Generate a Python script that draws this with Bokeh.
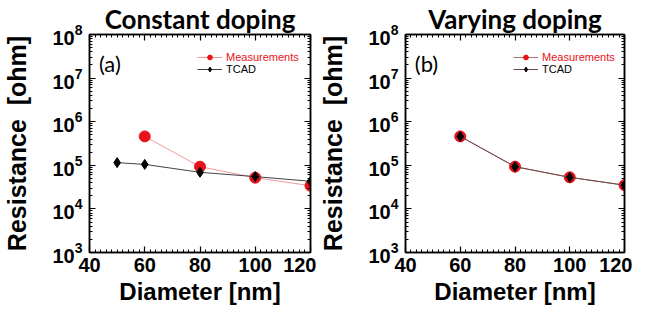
from bokeh.plotting import figure
from bokeh.models import (LinearAxis, LogAxis, Legend, LegendItem, Label,
                          FixedTicker, Range1d, Title)
from bokeh.layouts import row
from bokeh.embed import file_html
from bokeh.resources import INLINE

# ---- data ----
diam_meas_a = [60, 80, 100, 120]
res_meas_a = [4.6e5, 9.3e4, 5.2e4, 3.4e4]
diam_tcad_a = [50, 60, 80, 100, 120]
res_tcad_a = [1.15e5, 1.05e5, 6.9e4, 5.5e4, 4.3e4]

diam_meas_b = [60, 80, 100, 120]
res_meas_b = [4.6e5, 9.3e4, 5.3e4, 3.5e4]
diam_tcad_b = [60, 80, 100, 120]
res_tcad_b = [4.6e5, 9.3e4, 5.3e4, 3.5e4]

x_ticks = [40, 60, 80, 100, 120]
x_minor = list(range(40, 121, 2))
y_ticks = [1e3, 1e4, 1e5, 1e6, 1e7, 1e8]
y_minor = [m * 10 ** e for e in range(3, 8) for m in range(2, 10)]

RED = "#e8121a"
RED_LINE = "#f29a9a"
BLACK = "#000000"
TCAD_LINE = "#444444"
AX_FONT = "Liberation Sans"
TITLE_FONT = "Lato"

BORDER_TOP = 31
FRAME_H = 221
BORDER_BOTTOM = 58


def style_axis(ax, show_labels=True):
    ax.axis_line_color = "black"
    ax.axis_line_width = 1.5
    ax.major_tick_in = 6
    ax.major_tick_out = 0
    ax.minor_tick_in = 3
    ax.minor_tick_out = 0
    ax.major_tick_line_color = "black"
    ax.minor_tick_line_color = "black"
    ax.major_tick_line_width = 1.2
    ax.minor_tick_line_width = 1
    ax.major_label_text_font = AX_FONT
    ax.major_label_text_font_style = "bold"
    ax.major_label_text_color = "black"
    ax.axis_label_text_color = "black"
    if show_labels:
        ax.major_label_text_font_size = "20px"
    else:
        ax.major_label_text_font_size = "1px"
        ax.major_label_text_color = None
        ax.major_label_standoff = 0


def make_panel(title, tag, xm, ym, xt, yt, width, bl, br, meas_line, tcad_line):
    p = figure(width=width, height=BORDER_TOP + FRAME_H + BORDER_BOTTOM,
               x_range=Range1d(40, 120), y_range=Range1d(1e3, 1e8),
               y_axis_type="log", output_backend="svg", toolbar_location=None,
               min_border_left=bl, min_border_right=br,
               min_border_top=BORDER_TOP, min_border_bottom=BORDER_BOTTOM,
               x_axis_label="Diameter [nm]",
               y_axis_label="Resistance\u00a0\u00a0[ohm]")
    p.title = Title(text=title, align="center", text_font=TITLE_FONT,
                    text_font_size="26px", text_font_style="bold",
                    text_color="black", standoff=0)
    p.xgrid.visible = False
    p.ygrid.visible = False
    p.outline_line_color = "black"
    p.outline_line_width = 1.5
    p.background_fill_color = "white"
    p.border_fill_color = "white"

    xax = p.xaxis[0]
    xax.ticker = FixedTicker(ticks=x_ticks, minor_ticks=x_minor)
    style_axis(xax)
    xax.major_label_standoff = 5
    xax.axis_label_standoff = 3
    xax.axis_label_text_font = AX_FONT
    xax.axis_label_text_font_style = "bold"
    xax.axis_label_text_font_size = "24px"

    yax = p.yaxis[0]
    yax.ticker = FixedTicker(ticks=y_ticks, minor_ticks=y_minor)
    style_axis(yax)
    yax.major_label_standoff = 7
    yax.axis_label_standoff = 18
    yax.axis_label_text_font = AX_FONT
    yax.axis_label_text_font_style = "bold"
    yax.axis_label_text_font_size = "25px"

    top = LinearAxis(ticker=FixedTicker(ticks=x_ticks, minor_ticks=x_minor))
    style_axis(top, show_labels=False)
    p.add_layout(top, "above")
    right = LogAxis(ticker=FixedTicker(ticks=y_ticks, minor_ticks=y_minor))
    style_axis(right, show_labels=False)
    p.add_layout(right, "right")

    ml = p.line(xm, ym, line_color=meas_line, line_width=1)
    ms = p.scatter(xm, ym, marker="circle", size=11, fill_color=RED,
                   line_color=RED)
    tl = p.line(xt, yt, line_color=tcad_line, line_width=1)
    ts = p.scatter(xt, yt, marker="diamond", size=10, fill_color=BLACK,
                   line_color=BLACK)

    for items, color, bottom_y in (([LegendItem(label="Measurements", renderers=[ml, ms])], RED, 189),
                                   ([LegendItem(label="TCAD", renderers=[tl, ts])], BLACK, 177)):
        lg = Legend(items=items, location=(108, bottom_y), padding=0, margin=0,
                    spacing=0, glyph_width=25, glyph_height=12, label_height=12,
                    label_standoff=4, label_text_font=AX_FONT,
                    label_text_font_size="11px", label_text_color=color,
                    border_line_alpha=0, background_fill_alpha=0)
        p.add_layout(lg, "center")

    p.add_layout(Label(x=43.4, y=10 ** 7.33, text=tag, text_font=TITLE_FONT,
                       text_font_size="22px", text_baseline="middle",
                       text_color="black"))
    return p


pa = make_panel("Constant doping", "(a)", diam_meas_a, res_meas_a,
                diam_tcad_a, res_tcad_a, 316, 89, 6, RED_LINE, TCAD_LINE)
pb = make_panel("Varying doping", "(b)", diam_meas_b, res_meas_b,
                diam_tcad_b, res_tcad_b, 316, 88, 8, "#b07070", "#6a4848")

layout = row(pa, pb)
open("out.html", "w").write(file_html(layout, INLINE))
